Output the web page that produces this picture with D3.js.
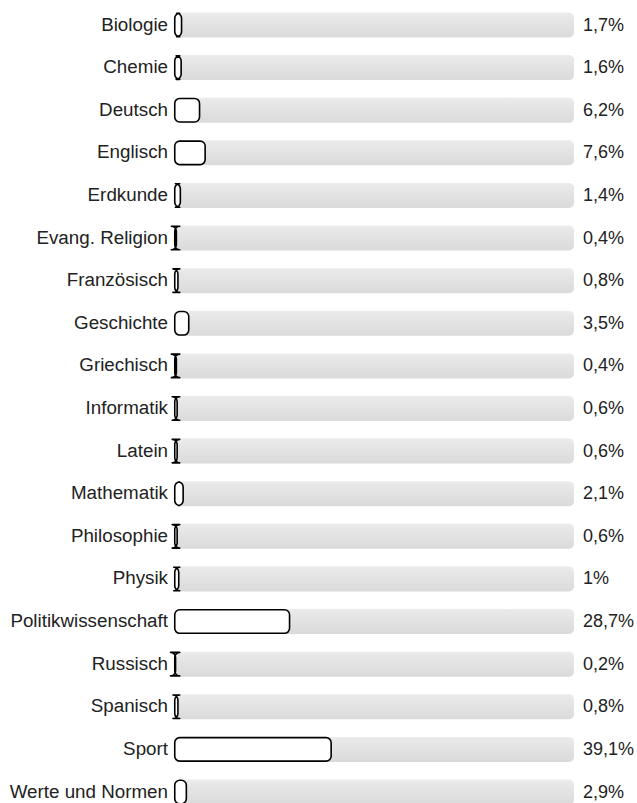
<!DOCTYPE html>
<html>
<head>
<meta charset="utf-8">
<script src="https://cdn.jsdelivr.net/npm/d3@7"></script>
<style>
  body { margin: 0; background: #fff; }
  text { font-family: "Liberation Sans", Arial, sans-serif; }
</style>
</head>
<body>
<div id="graf"></div>
<script>
// datos
faecher = ['Biologie', 'Chemie', 'Deutsch', 'Englisch', 'Erdkunde', 'Evang. Religion',
  'Französisch', 'Geschichte', 'Griechisch', 'Informatik', 'Latein', 'Mathematik',
  'Philosophie', 'Physik', 'Politikwissenschaft', 'Russisch', 'Spanisch', 'Sport',
  'Werte und Normen']
prozente = [1.7, 1.6, 6.2, 7.6, 1.4, 0.4, 0.8, 3.5, 0.4, 0.6, 0.6, 2.1, 0.6, 1, 28.7, 0.2, 0.8, 39.1, 2.9]
etiketten = ['1,7%', '1,6%', '6,2%', '7,6%', '1,4%', '0,4%', '0,8%', '3,5%', '0,4%', '0,6%',
  '0,6%', '2,1%', '0,6%', '1%', '28,7%', '0,2%', '0,8%', '39,1%', '2,9%']

ancho_total = 637
alto_total = 803
barH = 25
r = 5

svg = d3.select('#graf').append('svg')
  .attr('width', ancho_total)
  .attr('height', alto_total)

defs = svg.append('defs')
grad = defs.append('linearGradient')
  .attr('id', 'track')
  .attr('x1', 0).attr('y1', 0).attr('x2', 0).attr('y2', 1)
grad.append('stop').attr('offset', '0%').attr('stop-color', '#ebebeb')
grad.append('stop').attr('offset', '100%').attr('stop-color', '#dadada')

x = d3.scaleLinear().domain([0, 100]).range([174, 574])
y = d3.scalePoint().domain(faecher).range([25, 792])

data = faecher.map((f, i) => ({ fach: f, wert: prozente[i], label: etiketten[i] }))

// rectángulo redondeado sin recortar el radio (en barras finas sale la forma de "I")
function barPath(x0, y0, w, h) {
  return `M${x0 + r},${y0}H${x0 + w - r}A${r},${r} 0 0 1 ${x0 + w},${y0 + r}` +
    `V${y0 + h - r}A${r},${r} 0 0 1 ${x0 + w - r},${y0 + h}` +
    `H${x0 + r}A${r},${r} 0 0 1 ${x0},${y0 + h - r}` +
    `V${y0 + r}A${r},${r} 0 0 1 ${x0 + r},${y0}Z`
}

rows = svg.selectAll('g.row')
  .data(data)
  .enter().append('g')
  .attr('class', 'row')
  .attr('transform', d => `translate(0, ${y(d.fach)})`)

// fondo gris
rows.append('rect')
  .attr('x', x(0))
  .attr('y', -barH / 2)
  .attr('width', x(100) - x(0))
  .attr('height', barH)
  .attr('rx', 5)
  .style('fill', 'url(#track)')

// barra blanca
rows.append('path')
  .attr('d', d => barPath(x(0) + 0.75, -barH / 2 + 0.75, x(d.wert) - x(0), barH - 1.5))
  .style('fill', '#fff')
  .style('stroke', '#000')
  .style('stroke-width', 1.6)
  .style('stroke-linejoin', 'round')

rows.append('text')
  .attr('x', 168)
  .attr('y', 5.5)
  .attr('text-anchor', 'end')
  .style('font-size', '18.8px')
  .style('fill', '#222')
  .text(d => d.fach)

rows.append('text')
  .attr('x', 583)
  .attr('y', 5.5)
  .style('font-size', '18px')
  .style('fill', '#222')
  .text(d => d.label)
</script>
</body>
</html>
